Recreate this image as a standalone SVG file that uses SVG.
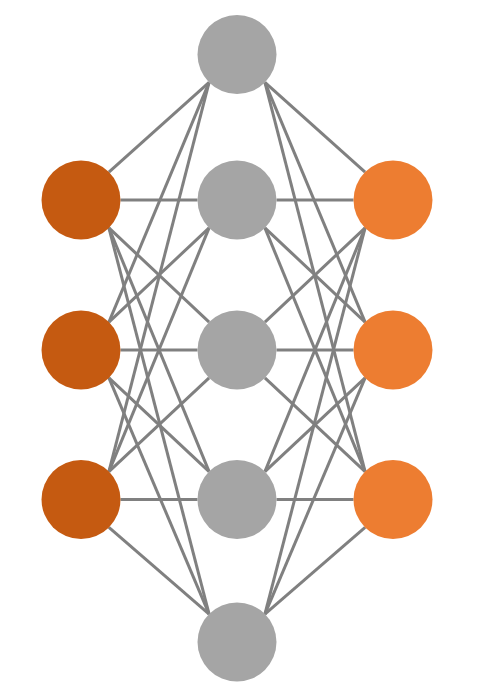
<svg xmlns="http://www.w3.org/2000/svg" width="487" height="688" viewBox="0 0 487 688">
<style>
.c{stroke:#808080;stroke-width:3;fill:none}
.in{fill:#C55A11}
.hid{fill:#A5A5A5}
.out{fill:#ED7D31}
</style>
<rect width="487" height="688" fill="#FFFFFF"/>
<g id="connectors" class="c">
<line x1="108.9" y1="172.1" x2="209.1" y2="82.4"/>
<line x1="120.5" y1="200" x2="197.5" y2="200"/>
<line x1="108.9" y1="227.9" x2="209.1" y2="322.1"/>
<line x1="108.9" y1="227.9" x2="209.1" y2="471.6"/>
<line x1="108.9" y1="227.9" x2="209.1" y2="614.1"/>
<line x1="108.9" y1="322.1" x2="209.1" y2="82.4"/>
<line x1="108.9" y1="322.1" x2="209.1" y2="227.9"/>
<line x1="120.5" y1="350" x2="197.5" y2="350"/>
<line x1="108.9" y1="377.9" x2="209.1" y2="471.6"/>
<line x1="108.9" y1="377.9" x2="209.1" y2="614.1"/>
<line x1="108.9" y1="471.6" x2="209.1" y2="82.4"/>
<line x1="108.9" y1="471.6" x2="209.1" y2="227.9"/>
<line x1="108.9" y1="471.6" x2="209.1" y2="377.9"/>
<line x1="120.5" y1="499.5" x2="197.5" y2="499.5"/>
<line x1="108.9" y1="527.4" x2="209.1" y2="614.1"/>
<line x1="365.1" y1="172.1" x2="264.9" y2="82.4"/>
<line x1="353.5" y1="200" x2="276.5" y2="200"/>
<line x1="365.1" y1="227.9" x2="264.9" y2="322.1"/>
<line x1="365.1" y1="227.9" x2="264.9" y2="471.6"/>
<line x1="365.1" y1="227.9" x2="264.9" y2="614.1"/>
<line x1="365.1" y1="322.1" x2="264.9" y2="82.4"/>
<line x1="365.1" y1="322.1" x2="264.9" y2="227.9"/>
<line x1="353.5" y1="350" x2="276.5" y2="350"/>
<line x1="365.1" y1="377.9" x2="264.9" y2="471.6"/>
<line x1="365.1" y1="377.9" x2="264.9" y2="614.1"/>
<line x1="365.1" y1="471.6" x2="264.9" y2="82.4"/>
<line x1="365.1" y1="471.6" x2="264.9" y2="227.9"/>
<line x1="365.1" y1="471.6" x2="264.9" y2="377.9"/>
<line x1="353.5" y1="499.5" x2="276.5" y2="499.5"/>
<line x1="365.1" y1="527.4" x2="264.9" y2="614.1"/>
</g>
<g id="in1"><circle class="in" cx="81" cy="200" r="39.5"/></g>
<g id="in2"><circle class="in" cx="81" cy="350" r="39.5"/></g>
<g id="in3"><circle class="in" cx="81" cy="499.5" r="39.5"/></g>
<g id="hid0"><circle class="hid" cx="237" cy="54.5" r="39.5"/></g>
<g id="hid1"><circle class="hid" cx="237" cy="200" r="39.5"/></g>
<g id="hid2"><circle class="hid" cx="237" cy="350" r="39.5"/></g>
<g id="hid3"><circle class="hid" cx="237" cy="499.5" r="39.5"/></g>
<g id="hid4"><circle class="hid" cx="237" cy="642" r="39.5"/></g>
<g id="out1"><circle class="out" cx="393" cy="200" r="39.5"/></g>
<g id="out2"><circle class="out" cx="393" cy="350" r="39.5"/></g>
<g id="out3"><circle class="out" cx="393" cy="499.5" r="39.5"/></g>
</svg>
